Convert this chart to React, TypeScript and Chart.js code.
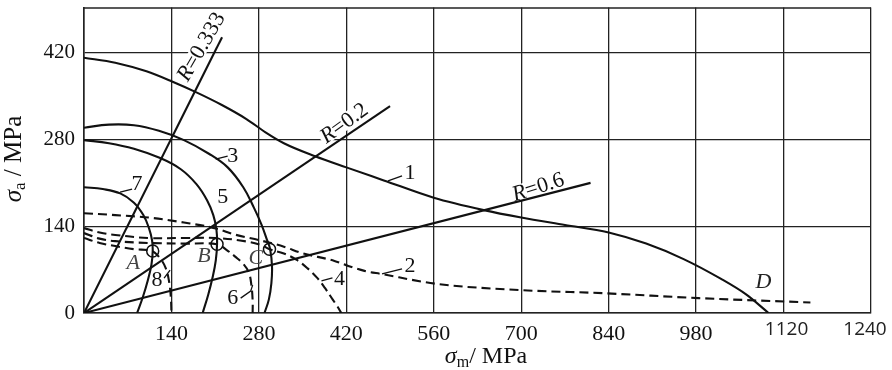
import React, { useEffect, useRef } from "react";
import { Chart, registerables } from "chart.js";
Chart.register(...registerables);

// ---- axis ticks ----
const xTickValues = [0, 140, 280, 420, 560, 700, 840, 980, 1120, 1260];
const xTickLabels = ["", "140", "280", "420", "560", "700", "840", "980", "1120", "1240"];
const yTickValues = [0, 140, 280, 420];
const yTickLabels = ["0", "140", "280", "420"];

// ---- curves (σm, σa in MPa) ----
const curve1X = [0, 50, 100, 140, 180, 220, 260, 290, 320, 370, 420, 480, 560, 640, 700, 770, 840, 900, 960, 1020, 1060, 1096];
const curve1Y = [412, 404, 390, 374, 356, 336, 313, 292, 274, 253, 235, 214, 186, 166, 154, 142, 130, 112, 87, 55, 30, 0];

const curve2X = [0, 50, 104, 160, 213, 240, 283, 320, 348, 401, 423, 449, 476, 565, 698, 830, 984, 1163];
const curve2Y = [161, 158, 154, 146, 136, 127, 117, 107, 97, 84, 76, 68, 63, 47, 37, 32, 24, 17];

const curve3X = [0, 40, 80, 120, 160, 200, 230, 255, 272, 284, 293, 298, 301, 300, 296, 289];
const curve3Y = [299, 304, 303, 294, 279, 257, 235, 203, 170, 143, 118, 103, 75, 48, 22, 0];

const curve4X = [0, 25, 50, 104, 158, 211, 250, 283, 297, 320, 340, 358, 373, 386, 398, 406, 412];
const curve4Y = [137, 130, 126, 121, 121, 121, 117, 110, 103, 96, 86, 72, 57, 40, 22, 10, 0];

const curve5X = [0, 40, 80, 122, 155, 180, 197, 207, 212, 213, 211, 206, 199, 190];
const curve5Y = [279, 274, 265, 250, 232, 208, 182, 158, 135, 111, 85, 58, 30, 0];

const curve6X = [0, 25, 50, 104, 158, 213, 228, 242, 256, 264, 268, 270, 270];
const curve6Y = [129, 120, 116, 113, 112, 111, 102, 91, 78, 65, 45, 20, 0];

const curve7X = [0, 30, 58, 80, 95, 104, 109, 110, 108, 102, 94, 85];
const curve7Y = [203, 200, 193, 178, 158, 137, 117, 100, 78, 52, 25, 0];

const curve8X = [0, 25, 50, 80, 109, 122, 131, 136, 139, 140];
const curve8Y = [121, 113, 108, 103, 100, 88, 72, 52, 26, 0];

// ---- stress ratio rays ----
const rayNames = ["0.333", "0.2", "0.6"];
const rayEndX = [221, 490, 811];
const rayEndY = [445, 334, 210];

// ---- marked points A, B, C ----
const pointX = [110, 213, 297];
const pointY = [100, 111, 103];

// ---- annotation texts (anchor in data units) ----
const curveLabels = ["1", "2", "3", "4", "5", "6", "7", "8"];
const curveLabelX = [522, 522, 238, 409, 222, 238, 85, 117];
const curveLabelY = [226, 76, 253, 55, 187, 24, 208, 53];
const pointLabels = ["A", "B", "C", "D"];
const pointLabelX = [79, 192, 275, 1088];
const pointLabelY = [81, 92, 89, 50];
const rayLabelX = [187, 416, 727];
const rayLabelY = [430, 307, 204];

const SERIF = "'Liberation Serif', 'Times New Roman', serif";
const INK = "#111";

const leaderOffsets: Record<string, number[][]> = {
  "1": [[-22, 8], [-8, 3]],
  "2": [[-28, 8], [-8, 3]],
  "3": [[-17, 3], [-5, 0]],
  "4": [[-18, 2], [-7, -1]],
  "6": [[8, 0], [18, -7], [20, -13]],
  "7": [[-17, 8], [-5, 5]],
  "8": [[7, -2], [13, -10]],
};
const rayAngles = [60, 36, 18];

type Part = { t: string; italic?: boolean; size: number; dy?: number };

function partsWidth(ctx: CanvasRenderingContext2D, parts: Part[]) {
  let w = 0;
  for (const p of parts) {
    ctx.font = `${p.italic ? "italic " : ""}${p.size}px ${SERIF}`;
    w += ctx.measureText(p.t).width;
  }
  return w;
}
function drawParts(ctx: CanvasRenderingContext2D, parts: Part[], x: number, y: number) {
  let cx = x;
  for (const p of parts) {
    ctx.font = `${p.italic ? "italic " : ""}${p.size}px ${SERIF}`;
    ctx.fillText(p.t, cx, y + (p.dy || 0));
    cx += ctx.measureText(p.t).width;
  }
}

const annotations = {
  id: "annotations",
  beforeDatasetsDraw(chart: any) {
    const { ctx, scales } = chart;
    ctx.save();
    ctx.fillStyle = "#fff";
    for (let i = 0; i < rayNames.length; i++) {
      const px = scales.x.getPixelForValue(rayLabelX[i]);
      const py = scales.y.getPixelForValue(rayLabelY[i]);
      const parts: Part[] = [{ t: "R", italic: true, size: 22 }, { t: "=" + rayNames[i], size: 22 }];
      const w = partsWidth(ctx, parts);
      ctx.save();
      ctx.translate(px, py);
      ctx.rotate((-rayAngles[i] * Math.PI) / 180);
      ctx.fillRect(-w / 2 - 2, -8, w + 4, 16);
      ctx.restore();
    }
    ctx.restore();
  },
  afterDatasetsDraw(chart: any) {
    const { ctx, scales, chartArea } = chart;
    ctx.save();
    // top border
    ctx.strokeStyle = "#222";
    ctx.lineWidth = 1.5;
    ctx.beginPath();
    ctx.moveTo(chartArea.left, chartArea.top + 0.5);
    ctx.lineTo(chartArea.right, chartArea.top + 0.5);
    ctx.stroke();

    ctx.fillStyle = INK;
    ctx.textBaseline = "middle";
    ctx.textAlign = "center";
    // curve numbers + leaders
    for (let i = 0; i < curveLabels.length; i++) {
      const px = scales.x.getPixelForValue(curveLabelX[i]);
      const py = scales.y.getPixelForValue(curveLabelY[i]);
      ctx.font = `22px ${SERIF}`;
      ctx.fillText(curveLabels[i], px, py);
      const off = leaderOffsets[curveLabels[i]];
      if (off) {
        ctx.strokeStyle = INK;
        ctx.lineWidth = 1.3;
        ctx.beginPath();
        off.forEach((o, k) => (k === 0 ? ctx.moveTo(px + o[0], py + o[1]) : ctx.lineTo(px + o[0], py + o[1])));
        ctx.stroke();
      }
    }
    // point letters
    for (let i = 0; i < pointLabels.length; i++) {
      const px = scales.x.getPixelForValue(pointLabelX[i]);
      const py = scales.y.getPixelForValue(pointLabelY[i]);
      ctx.font = `italic 22px ${SERIF}`;
      ctx.fillStyle = i < 3 ? "#444" : "#222";
      ctx.fillText(pointLabels[i], px, py);
    }
    ctx.fillStyle = INK;
    // R labels
    ctx.textAlign = "left";
    ctx.textBaseline = "middle";
    for (let i = 0; i < rayNames.length; i++) {
      const px = scales.x.getPixelForValue(rayLabelX[i]);
      const py = scales.y.getPixelForValue(rayLabelY[i]);
      const parts: Part[] = [{ t: "R", italic: true, size: 22 }, { t: "=" + rayNames[i], size: 22 }];
      const w = partsWidth(ctx, parts);
      ctx.save();
      ctx.translate(px, py);
      ctx.rotate((-rayAngles[i] * Math.PI) / 180);
      drawParts(ctx, parts, -w / 2, 1);
      ctx.restore();
    }
    // x tick labels
    ctx.textAlign = "center";
    ctx.textBaseline = "alphabetic";
    for (let i = 0; i < xTickValues.length; i++) {
      if (!xTickLabels[i]) continue;
      const px = scales.x.getPixelForValue(xTickValues[i]);
      if (i >= 8) {
        ctx.font = `19px 'Open Sans', 'Noto Sans', sans-serif`;
        ctx.fillStyle = "#222";
        ctx.fillText(xTickLabels[i], i === 9 ? px - 6 : px + 3, 335);
      } else {
        ctx.font = `22px ${SERIF}`;
        ctx.fillStyle = INK;
        ctx.fillText(xTickLabels[i], px, 340);
      }
    }
    ctx.fillStyle = INK;
    // x title
    ctx.textAlign = "left";
    const xt: Part[] = [{ t: "σ", italic: true, size: 24 }, { t: "m", size: 16, dy: 4 }, { t: "/ MPa", size: 24 }];
    const xw = partsWidth(ctx, xt);
    drawParts(ctx, xt, 486 - xw / 2, 363);
    // y title
    const yt: Part[] = [{ t: "σ", italic: true, size: 25 }, { t: "a", size: 17, dy: 4 }, { t: " / MPa", size: 25 }];
    const yw = partsWidth(ctx, yt);
    ctx.save();
    ctx.translate(21, 159);
    ctx.rotate(-Math.PI / 2);
    drawParts(ctx, yt, -yw / 2, 0);
    ctx.restore();
    ctx.restore();
  },
};

function pts(xs: number[], ys: number[]) {
  return xs.map((x, i) => ({ x, y: ys[i] }));
}

export default function App() {
  const ref = useRef<HTMLCanvasElement | null>(null);
  useEffect(() => {
    if (!ref.current) return;
    const solid = (data: any, extra: any = {}) => ({
      data, borderColor: INK, borderWidth: 2.1, pointRadius: 0, tension: 0.4, fill: false, ...extra,
    });
    const dashed = (data: any, extra: any = {}) => solid(data, { borderDash: [9, 5], ...extra });
    const mono = { cubicInterpolationMode: "monotone" };
    const datasets: any[] = [
      solid(pts(curve1X, curve1Y), mono),
      dashed(pts(curve2X, curve2Y), mono),
      solid(pts(curve3X, curve3Y)),
      dashed(pts(curve4X, curve4Y)),
      solid(pts(curve5X, curve5Y)),
      dashed(pts(curve6X, curve6Y)),
      solid(pts(curve7X, curve7Y)),
      dashed(pts(curve8X, curve8Y)),
      ...rayNames.map((_, i) => solid([{ x: 0, y: 0 }, { x: rayEndX[i], y: rayEndY[i] }], { tension: 0 })),
      {
        data: pts(pointX, pointY), showLine: false, pointRadius: 6, pointBackgroundColor: "#fff",
        pointBorderColor: INK, pointBorderWidth: 1.5, borderColor: INK,
      },
    ];
    const chart = new Chart(ref.current, {
      type: "line",
      data: { datasets },
      options: {
        responsive: false,
        animation: false,
        devicePixelRatio: 1,
        layout: { padding: { left: 0, top: 1, right: 21, bottom: 0 } },
        plugins: { legend: { display: false }, tooltip: { enabled: false } },
        scales: {
          x: {
            type: "linear", min: 0, max: 1260,
            afterBuildTicks: (s: any) => { s.ticks = xTickValues.map((v) => ({ value: v })); },
            afterFit: (s: any) => { s.height = 57; s.paddingLeft = 0; s.paddingRight = 0; },
            grid: { color: "#222", lineWidth: 1.3, drawTicks: false },
            border: { color: "#222", width: 1.6 },
            ticks: { display: false },
          },
          y: {
            type: "linear", min: 0, max: 493,
            afterBuildTicks: (s: any) => { s.ticks = yTickValues.map((v) => ({ value: v })); },
            afterFit: (s: any) => { s.width = 84; s.paddingTop = 0; s.paddingBottom = 0; },
            grid: { color: "#222", lineWidth: 1.3, drawTicks: false },
            border: { color: "#222", width: 1.6 },
            ticks: {
              padding: 9, color: INK, font: { family: SERIF, size: 21 },
              callback: (_v: any, i: number) => yTickLabels[i],
            },
          },
        },
      },
      plugins: [annotations],
    } as any);
    return () => chart.destroy();
  }, []);
  return (
    <div style={{ position: "fixed", left: 0, top: 0, width: 892, height: 370, background: "#fff" }}>
      <canvas ref={ref} width={892} height={370} />
    </div>
  );
}
